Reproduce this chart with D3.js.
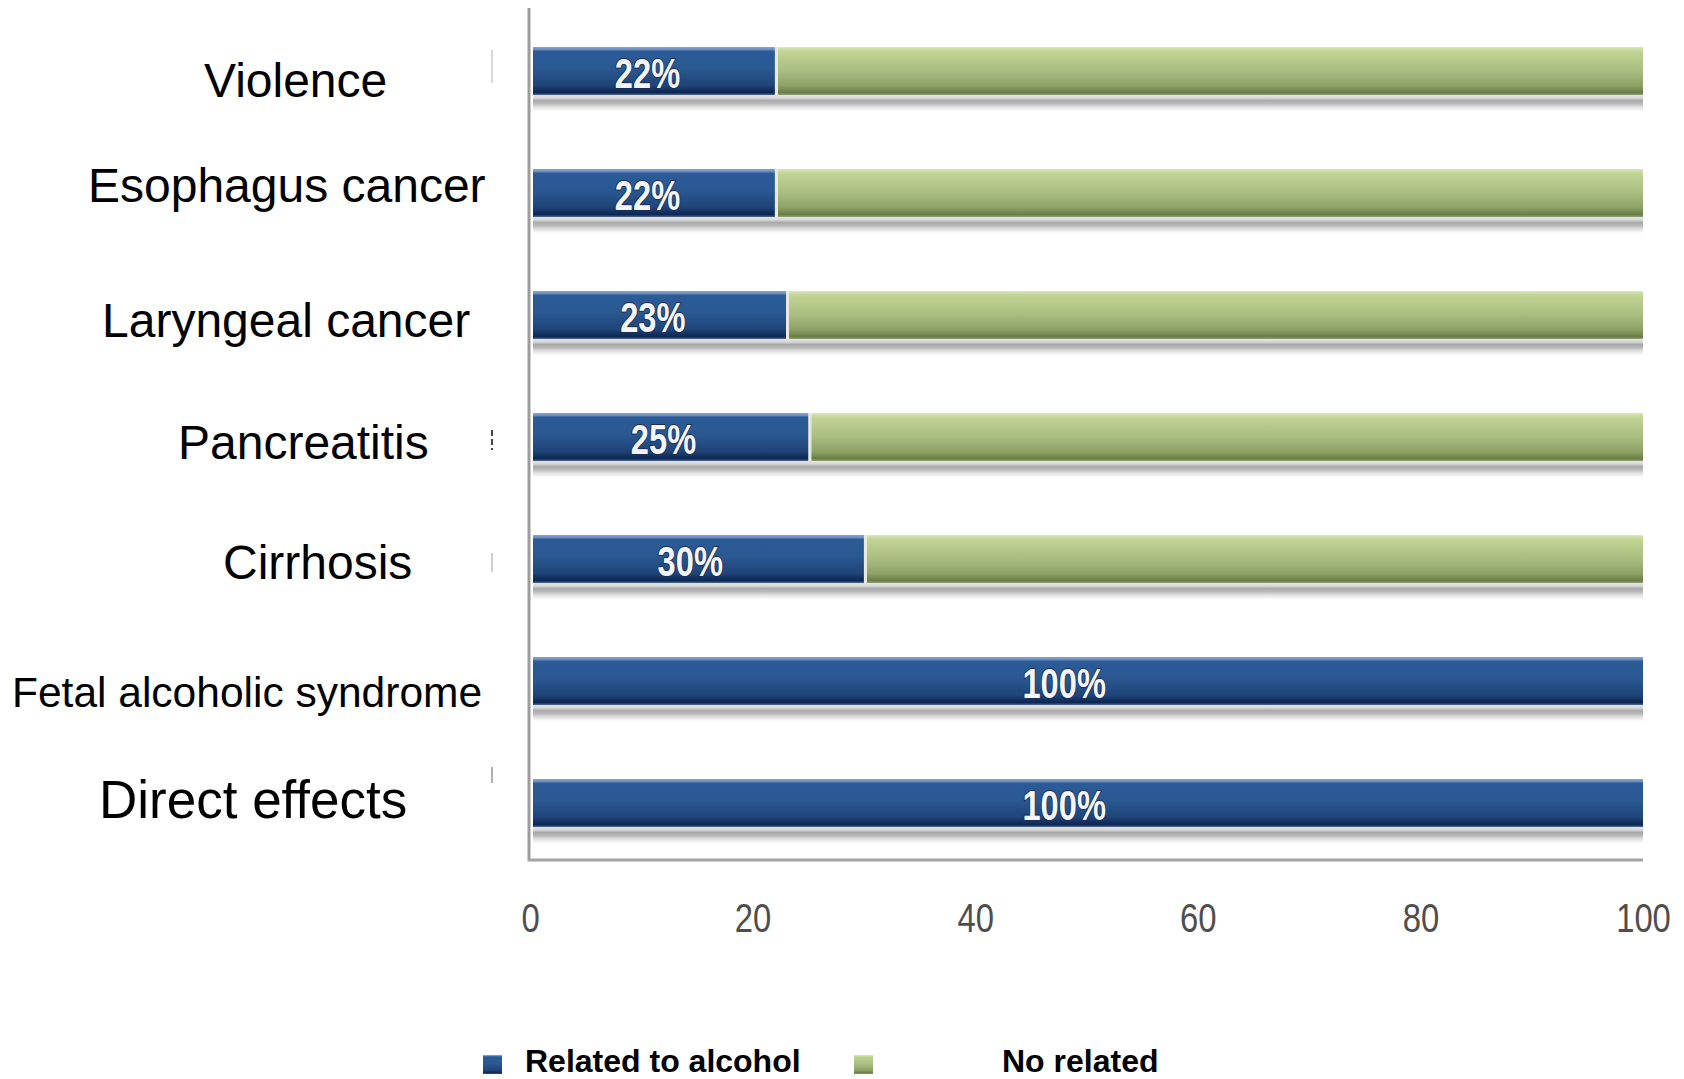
<!DOCTYPE html>
<html>
<head>
<meta charset="utf-8">
<script src="https://cdn.jsdelivr.net/npm/d3@7/dist/d3.min.js"></script>
<style>
  html, body { margin: 0; padding: 0; background: #ffffff; }
  svg { display: block; }
</style>
</head>
<body>
<svg id="chart" width="1684" height="1079"></svg>
<script>
// Share of each condition attributable to alcohol (percent)
const categories = [
  "Violence",
  "Esophagus cancer",
  "Laryngeal cancer",
  "Pancreatitis",
  "Cirrhosis",
  "Fetal alcoholic syndrome",
  "Direct effects"
];
const relatedValues = [22, 22, 23, 25, 30, 100, 100];
const seriesNames = ["Related to alcohol", "No related"];
const tickValues = [0, 20, 40, 60, 80, 100];

// Hand-placed category label layout (left edge, vertical nudge, font size)
const labelLayout = [
  { left: 204, dy: 9,  size: 48 },
  { left: 88,  dy: -8, size: 48 },
  { left: 102, dy: 5,  size: 48 },
  { left: 178, dy: 5,  size: 48 },
  { left: 223, dy: 3,  size: 48 },
  { left: 12,  dy: 11, size: 42.5 },
  { left: 99,  dy: -4, size: 53 }
];

const svg = d3.select("#chart");
const defs = svg.append("defs");

function vGradient(id, stops) {
  const g = defs.append("linearGradient")
    .attr("id", id).attr("x1", 0).attr("y1", 0).attr("x2", 0).attr("y2", 1);
  stops.forEach(([o, c, a]) => g.append("stop")
    .attr("offset", o).attr("stop-color", c).attr("stop-opacity", a == null ? 1 : a));
}
vGradient("blueFill", [
  [0, "#8aa5cc"], [0.05, "#6f8fbd"], [0.09, "#2b5b98"], [0.45, "#2a5891"],
  [0.8, "#1f4478"], [0.9, "#11305e"], [0.95, "#0d2752"], [1, "#4d6890"]
]);
vGradient("greenFill", [
  [0, "#dbe7bd"], [0.06, "#c8da9c"], [0.12, "#bfd292"], [0.5, "#a9bd80"],
  [0.8, "#8ea268"], [0.9, "#76894f"], [0.95, "#6a7c48"], [1, "#93a276"]
]);
vGradient("barShadow", [
  [0, "#e4e4e4"], [0.18, "#d6d6d6"], [0.32, "#a9a9a9"], [0.5, "#b8b8b8"],
  [0.68, "#dcdcdc"], [0.85, "#f0f0f0"], [1, "#ffffff", 0]
]);

const x = d3.scaleLinear().domain([0, 100]).range([530, 1643]);
const y = d3.scaleBand().domain(categories).range([10, 864])
  .paddingInner(0.6066).paddingOuter(0.3033);

const rows = categories.map((c, i) => ({ cat: c, v: relatedValues[i], layout: labelLayout[i] }));
const barStart = x(0) + 3;

// Squeeze a text element horizontally around its anchor point
function condense(sel, factor) {
  sel.each(function () {
    const t = d3.select(this);
    const len = this.getComputedTextLength();
    t.attr("textLength", len * factor).attr("lengthAdjust", "spacingAndGlyphs");
  });
}

// Soft shadow under each bar
svg.append("g").selectAll("rect").data(rows).join("rect")
  .attr("x", barStart)
  .attr("y", d => y(d.cat) + y.bandwidth())
  .attr("width", x(100) - barStart)
  .attr("height", 17)
  .attr("fill", "url(#barShadow)");

// "No related" remainder segments
svg.append("g").selectAll("rect").data(rows.filter(d => d.v < 100)).join("rect")
  .attr("x", d => x(d.v) + 3)
  .attr("y", d => y(d.cat))
  .attr("width", d => x(100) - x(d.v) - 3)
  .attr("height", y.bandwidth())
  .attr("fill", "url(#greenFill)");

// Light separator between the two segments
svg.append("g").selectAll("rect").data(rows.filter(d => d.v < 100)).join("rect")
  .attr("x", d => x(d.v))
  .attr("y", d => y(d.cat))
  .attr("width", 3)
  .attr("height", y.bandwidth())
  .attr("fill", "#e6e8e2");

// "Related to alcohol" segments
svg.append("g").selectAll("rect").data(rows).join("rect")
  .attr("x", barStart)
  .attr("y", d => y(d.cat))
  .attr("width", d => x(d.v) - barStart)
  .attr("height", y.bandwidth())
  .attr("fill", "url(#blueFill)");

// Value labels inside the blue segments
const valueLabels = svg.append("g").selectAll("text").data(rows).join("text")
  .attr("x", d => x(0) + 0.48 * (x(d.v) - x(0)))
  .attr("y", d => y(d.cat) + y.bandwidth() / 2 + 17)
  .attr("text-anchor", "middle")
  .attr("font-family", "'Liberation Sans', Arial, sans-serif")
  .attr("font-weight", "bold")
  .attr("font-size", 43)
  .attr("fill", "#f4f6fa")
  .attr("stroke", "#1b2f55")
  .attr("stroke-width", 2)
  .attr("paint-order", "stroke")
  .text(d => d.v + "%");
condense(valueLabels, 0.76);

// Axis lines
svg.append("line")
  .attr("x1", x(0) - 1).attr("x2", x(0) - 1)
  .attr("y1", 8).attr("y2", 861)
  .attr("stroke", "#9c9c9c").attr("stroke-width", 3);

const xAxis = svg.append("g")
  .attr("transform", "translate(0,860)")
  .call(d3.axisBottom(x).tickValues(tickValues).tickSize(0).tickSizeOuter(0));
xAxis.select(".domain").attr("stroke", "#a4a4a4").attr("stroke-width", 3)
  .attr("d", `M${x(0) - 2},0H${x(100)}`);
const tickText = xAxis.selectAll("text")
  .attr("y", 72).attr("dy", 0)
  .attr("font-family", "'Liberation Sans', Arial, sans-serif")
  .attr("font-size", 40)
  .attr("fill", "#4e4e4e");
condense(tickText, 0.82);

// Category labels
svg.append("g").selectAll("text").data(rows).join("text")
  .attr("x", d => d.layout.left)
  .attr("y", d => y(d.cat) + y.bandwidth() / 2 + d.layout.dy + d.layout.size * 0.358)
  .attr("font-family", "'Liberation Sans', Arial, sans-serif")
  .attr("font-size", d => d.layout.size)
  .attr("fill", "#000000")
  .text(d => d.cat);

// Small leftover tick marks beside some labels
const stubs = [
  { i: 0, top: -21, len: 33, color: "#d8d8d8" },
  { i: 3, top: -7,  len: 20, color: "#444444", dash: "6,3" },
  { i: 4, top: -6,  len: 19, color: "#cfcfcf" },
  { i: 6, top: -36, len: 16, color: "#b0b0b0" }
];
svg.append("g").selectAll("line").data(stubs).join("line")
  .attr("x1", 492).attr("x2", 492)
  .attr("y1", d => y(categories[d.i]) + y.bandwidth() / 2 + d.top)
  .attr("y2", d => y(categories[d.i]) + y.bandwidth() / 2 + d.top + d.len)
  .attr("stroke", d => d.color)
  .attr("stroke-width", 2)
  .attr("stroke-dasharray", d => d.dash || null);

// Legend
const legendItems = [
  { name: seriesNames[0], fill: "url(#blueFill)", sx: 483, tx: 525 },
  { name: seriesNames[1], fill: "url(#greenFill)", sx: 854, tx: 1002 }
];
const legend = svg.append("g");
legend.selectAll("rect").data(legendItems).join("rect")
  .attr("x", d => d.sx).attr("y", 1055)
  .attr("width", 19).attr("height", 19)
  .attr("fill", d => d.fill);
legend.selectAll("text").data(legendItems).join("text")
  .attr("x", d => d.tx).attr("y", 1072)
  .attr("font-family", "'Liberation Sans', Arial, sans-serif")
  .attr("font-weight", "bold")
  .attr("font-size", 32)
  .attr("fill", "#000000")
  .text(d => d.name);
</script>
</body>
</html>
